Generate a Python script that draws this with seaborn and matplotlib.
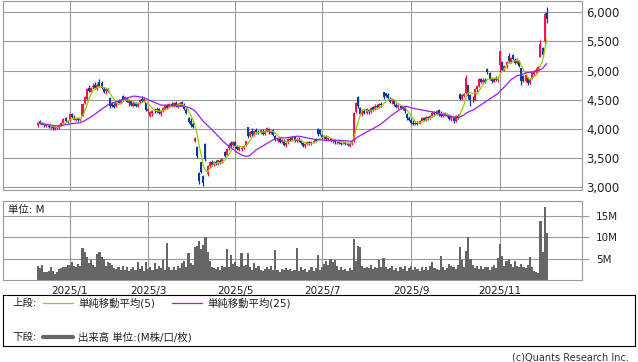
import matplotlib
matplotlib.use("Agg")
import matplotlib.pyplot as plt
import numpy as np
import pandas as pd
import seaborn as sns

# trading calendar (TSE holidays in the range)
holidays = ['2024-12-31', '2025-01-01', '2025-01-02', '2025-01-03', '2025-01-13',
            '2025-02-11', '2025-02-24', '2025-03-20', '2025-04-29', '2025-05-05',
            '2025-05-06', '2025-07-21', '2025-08-11', '2025-09-15', '2025-09-23',
            '2025-10-13', '2025-11-03', '2025-11-24']
dates = pd.bdate_range('2024-12-10', '2025-12-05', freq='C', holidays=holidays)

opens = [
    4060, 4130, 4100, 4080, 4050, 4060, 4030, 4030, 4000, 4040, 4010, 4070, 4110, 4180, 4130,  # Dec
    4150, 4260, 4190, 4150, 4170, 4160, 4230, 4440, 4520, 4700, 4640, 4720, 4760, 4690, 4800, 4780, 4690, 4650, 4680,  # Jan
    4530, 4440, 4410, 4390, 4470, 4450, 4560, 4520, 4530, 4440, 4480, 4400, 4440, 4390, 4460, 4510, 4480, 4440,  # Feb
    4310, 4220, 4280, 4320, 4290, 4340, 4260, 4320, 4350, 4400, 4380, 4430, 4410, 4450, 4380, 4430, 4460, 4410, 4330, 4180,  # Mar
    4130, 4080, 3790, 3690, 3250, 3430, 3200, 3750, 3220, 3360, 3440, 3380, 3430, 3410, 3450, 3430, 3600, 3560, 3680, 3760, 3730,  # Apr
    3780, 3700, 3640, 3650, 3680, 3720, 4030, 3880, 3960, 3900, 3980, 3950, 3930, 3970, 3910, 3960, 4000, 3930, 3980, 3880,  # May
    3800, 3830, 3780, 3800, 3720, 3770, 3820, 3810, 3860, 3790, 3830, 3800, 3760, 3700, 3740, 3780, 3740, 3780, 3820, 4000, 3980,  # Jun
    3900, 3860, 3880, 3830, 3840, 3790, 3800, 3770, 3790, 3760, 3760, 3780, 3740, 3710, 3740, 3800, 4290, 4540, 4360, 4250, 4300, 4280,  # Jul
    4330, 4290, 4370, 4330, 4400, 4380, 4420, 4630, 4610, 4580, 4520, 4480, 4490, 4410, 4370, 4400, 4350, 4380, 4260, 4180,  # Aug
    4160, 4110, 4080, 4110, 4090, 4140, 4180, 4150, 4200, 4190, 4220, 4280, 4250, 4320, 4260, 4220, 4270, 4240, 4240, 4170,  # Sep
    4200, 4140, 4230, 4600, 4520, 4560, 4610, 4750, 4580, 4500, 4490, 4680, 4740, 4860, 4800, 4840, 5030, 4960, 4860, 4810, 4880, 4840,  # Oct
    5090, 5140, 5010, 5080, 5250, 5150, 5260, 5190, 5130, 5170, 5040, 4900, 4830, 4880, 4790, 4870, 4950, 4990,  # Nov
    5000, 5240, 5380, 5500, 5980,  # Dec
]
highs = [
    4110, 4160, 4120, 4090, 4080, 4070, 4060, 4040, 4040, 4050, 4080, 4120, 4180, 4200, 4160,
    4270, 4280, 4240, 4190, 4200, 4190, 4450, 4570, 4710, 4760, 4720, 4790, 4800, 4780, 4850, 4830, 4720, 4700, 4710,
    4540, 4460, 4440, 4470, 4520, 4520, 4590, 4570, 4550, 4490, 4500, 4470, 4460, 4460, 4520, 4560, 4540, 4450,
    4360, 4310, 4330, 4360, 4370, 4360, 4330, 4380, 4420, 4430, 4440, 4470, 4460, 4480, 4440, 4470, 4480, 4440, 4360, 4200,
    4180, 4120, 3870, 3700, 3270, 3440, 3210, 3760, 3390, 3450, 3470, 3450, 3460, 3470, 3480, 3500, 3620, 3680, 3760, 3800, 3790,
    3800, 3720, 3700, 3700, 3730, 3800, 4040, 3970, 4010, 3990, 4010, 3990, 4000, 4000, 3990, 4030, 4020, 3990, 4000, 3900,
    3850, 3860, 3830, 3820, 3780, 3840, 3870, 3880, 3880, 3850, 3860, 3820, 3780, 3760, 3800, 3800, 3790, 3820, 3850, 4020, 4000,
    3920, 3900, 3900, 3870, 3850, 3820, 3830, 3800, 3810, 3790, 3800, 3790, 3770, 3770, 3810, 4290, 4460, 4560, 4380, 4330, 4350, 4360,
    4350, 4380, 4400, 4420, 4430, 4440, 4460, 4640, 4620, 4610, 4540, 4520, 4510, 4450, 4420, 4410, 4400, 4390, 4280, 4230,
    4180, 4150, 4120, 4130, 4160, 4200, 4210, 4220, 4230, 4240, 4300, 4310, 4330, 4340, 4300, 4290, 4290, 4280, 4250, 4220,
    4220, 4240, 4260, 4610, 4600, 4620, 4920, 4760, 4600, 4560, 4700, 4760, 4880, 4880, 4870, 4880, 5050, 4980, 4890, 4880, 4900, 4890,
    5350, 5160, 5100, 5160, 5300, 5230, 5290, 5220, 5210, 5190, 5050, 4930, 4940, 4890, 4880, 4980, 5010, 5040,
    5080, 5520, 5400, 6000, 6090,
]
lows = [
    4040, 4090, 4060, 4040, 4030, 4020, 4000, 3990, 3990, 4000, 4000, 4060, 4100, 4120, 4100,
    4140, 4190, 4150, 4130, 4140, 4140, 4220, 4420, 4500, 4630, 4610, 4680, 4680, 4660, 4720, 4680, 4620, 4600, 4630,
    4360, 4370, 4360, 4380, 4440, 4430, 4500, 4490, 4460, 4400, 4390, 4380, 4370, 4380, 4430, 4470, 4460, 4300,
    4280, 4200, 4230, 4280, 4270, 4250, 4230, 4290, 4330, 4340, 4360, 4380, 4370, 4370, 4360, 4400, 4390, 4320, 4260, 4100,
    4040, 4020, 3770, 3510, 3060, 3250, 3030, 3450, 3190, 3330, 3370, 3360, 3380, 3390, 3400, 3410, 3520, 3540, 3640, 3690, 3700,
    3680, 3640, 3620, 3620, 3660, 3710, 3840, 3860, 3880, 3880, 3920, 3910, 3920, 3900, 3900, 3940, 3920, 3910, 3880, 3790,
    3770, 3760, 3760, 3700, 3690, 3750, 3790, 3800, 3780, 3770, 3780, 3740, 3690, 3680, 3720, 3720, 3720, 3760, 3780, 3880, 3900,
    3820, 3830, 3810, 3800, 3770, 3760, 3750, 3740, 3740, 3730, 3740, 3720, 3700, 3690, 3720, 3780, 4270, 4360, 4240, 4220, 4250, 4260,
    4260, 4270, 4310, 4320, 4350, 4360, 4380, 4520, 4540, 4510, 4440, 4420, 4400, 4360, 4350, 4340, 4330, 4280, 4160, 4140,
    4090, 4070, 4060, 4070, 4080, 4130, 4130, 4140, 4160, 4170, 4200, 4230, 4240, 4230, 4200, 4210, 4220, 4200, 4150, 4140,
    4110, 4120, 4170, 4490, 4500, 4540, 4600, 4520, 4390, 4460, 4480, 4640, 4720, 4780, 4770, 4790, 4950, 4840, 4790, 4800, 4820, 4810,
    4980, 4990, 4990, 5050, 5130, 5130, 5180, 5110, 5110, 5060, 4750, 4800, 4810, 4750, 4770, 4850, 4920, 4960,
    4980, 5230, 5230, 5480, 5810,
]
closes = [
    4100, 4100, 4070, 4060, 4070, 4030, 4050, 4010, 4030, 4010, 4070, 4110, 4170, 4140, 4120,
    4250, 4200, 4160, 4180, 4150, 4180, 4430, 4550, 4690, 4650, 4700, 4730, 4700, 4760, 4740, 4700, 4640, 4680, 4650,
    4390, 4400, 4380, 4460, 4450, 4500, 4520, 4540, 4470, 4480, 4410, 4450, 4390, 4450, 4500, 4480, 4520, 4320,
    4340, 4290, 4310, 4300, 4350, 4270, 4310, 4360, 4400, 4360, 4420, 4400, 4440, 4390, 4420, 4450, 4400, 4340, 4280, 4120,
    4060, 4040, 3850, 3530, 3100, 3270, 3070, 3480, 3370, 3430, 3390, 3440, 3400, 3460, 3420, 3490, 3540, 3660, 3700, 3710, 3770,
    3700, 3660, 3690, 3670, 3710, 3790, 3880, 3950, 3910, 3970, 3940, 3930, 3980, 3920, 3970, 4010, 3940, 3970, 3900, 3810,
    3830, 3780, 3810, 3720, 3760, 3820, 3810, 3860, 3790, 3830, 3800, 3760, 3710, 3740, 3780, 3740, 3770, 3800, 3790, 3910, 3920,
    3850, 3880, 3830, 3850, 3790, 3800, 3770, 3780, 3760, 3750, 3780, 3740, 3720, 3750, 3790, 4270, 4440, 4390, 4260, 4310, 4280, 4340,
    4290, 4360, 4330, 4400, 4370, 4420, 4410, 4540, 4570, 4530, 4460, 4500, 4420, 4380, 4410, 4360, 4390, 4300, 4180, 4160,
    4110, 4090, 4100, 4080, 4140, 4180, 4150, 4200, 4180, 4230, 4280, 4250, 4310, 4250, 4220, 4270, 4240, 4260, 4170, 4200,
    4130, 4220, 4190, 4520, 4580, 4600, 4880, 4560, 4500, 4490, 4680, 4730, 4850, 4800, 4840, 4810, 4970, 4860, 4820, 4870, 4840, 4870,
    5330, 5010, 5080, 5140, 5160, 5210, 5200, 5130, 5190, 5080, 4820, 4830, 4920, 4780, 4860, 4960, 4990, 5010,
    5060, 5460, 5270, 5970, 5880,
]
volume_m = [
    3.3, 2.9, 3.5, 2.0, 1.9, 2.1, 3.2, 2.2, 1.4, 2.0, 2.6, 2.9, 3.2, 3.0, 3.6,
    3.6, 4.2, 3.4, 3.0, 3.9, 3.3, 7.5, 6.6, 5.4, 4.0, 4.7, 3.5, 3.2, 6.2, 6.5, 5.5, 5.0, 3.4, 4.2,
    4.0, 3.5, 2.9, 2.6, 3.1, 2.5, 3.3, 2.4, 3.0, 2.2, 2.6, 3.2, 2.3, 4.2, 2.7, 3.4, 2.2, 4.3,
    2.6, 3.0, 2.3, 4.0, 2.6, 3.3, 2.8, 4.7, 2.5, 8.6, 3.0, 2.4, 3.2, 2.5, 3.4, 2.8, 4.1, 4.4, 3.0, 6.3,
    4.0, 3.6, 7.7, 8.0, 9.1, 7.3, 8.2, 10.2, 6.6, 4.5, 3.2, 2.9, 2.6, 3.0, 2.4, 3.3, 3.1, 7.3, 3.0, 5.9, 3.9,
    4.2, 3.4, 3.0, 6.4, 3.3, 3.5, 6.3, 3.2, 2.5, 4.1, 2.8, 3.4, 2.5, 2.2, 2.7, 3.0, 2.6, 3.3, 2.4, 7.0,
    2.3, 2.0, 2.7, 2.4, 2.8, 2.3, 2.6, 2.2, 2.5, 7.5, 2.1, 3.0, 2.4, 2.7, 2.0, 2.5, 3.1, 2.2, 2.8, 5.9, 2.3,
    3.0, 3.9, 4.5, 3.6, 4.9, 4.2, 4.8, 3.4, 2.5, 3.0, 2.3, 2.6, 2.2, 2.9, 2.5, 9.6, 4.5, 8.0, 7.7, 3.4, 2.8, 3.0,
    2.8, 3.5, 2.6, 3.2, 2.9, 4.7, 3.1, 5.2, 3.0, 2.6, 2.9, 3.3, 2.4, 2.8, 2.2, 3.2, 2.6, 3.3, 2.1, 2.8,
    3.3, 2.3, 3.0, 2.6, 2.2, 3.1, 2.5, 3.0, 2.4, 3.4, 4.2, 2.9, 2.6, 2.5, 5.6, 3.0, 2.4, 2.9, 3.8, 3.4,
    3.0, 2.7, 3.6, 7.7, 4.7, 3.2, 6.8, 10.0, 4.9, 3.6, 2.9, 3.3, 2.6, 3.4, 2.7, 3.2, 3.0, 2.4, 3.1, 3.5, 2.8, 5.2,
    8.4, 5.6, 3.3, 4.5, 4.9, 3.7, 3.1, 4.4, 3.4, 3.0, 3.8, 3.2, 2.9, 3.6, 5.4, 3.0, 2.2, 1.9,
    1.7, 13.8, 6.6, 17.1, 11.0,
]

price_ticks = [3000, 3500, 4000, 4500, 5000, 5500, 6000]
volume_ticks = [5, 10, 15]
month_starts = ['2025-01-01', '2025-03-01', '2025-05-01', '2025-07-01', '2025-09-01', '2025-11-01']
month_labels = ['2025/1', '2025/3', '2025/5', '2025/7', '2025/9', '2025/11']

n = len(dates)
assert all(len(a) == n for a in (opens, highs, lows, closes, volume_m)), \
    (n, len(opens), len(highs), len(lows), len(closes), len(volume_m))

df = pd.DataFrame({'date': dates, 'open': opens, 'high': highs, 'low': lows,
                   'close': closes, 'volume': volume_m})
df['i'] = np.arange(n)
df['ma5'] = df['close'].rolling(5, min_periods=1).mean()
df['ma25'] = df['close'].rolling(25, min_periods=1).mean()
month_pos = [int(np.searchsorted(dates, pd.Timestamp(m))) for m in month_starts]

RED = '#f5134a'
BLUE = '#0a3aa0'
GREEN = '#99cc00'
PURPLE = '#9b1cf5'
GRID = '#9a9a9a'
VOL = '#666666'

sns.set_style('white')
plt.rcParams['font.family'] = ['DejaVu Sans', 'Noto Sans CJK JP']

W, H = 638, 362
fig = plt.figure(figsize=(W / 100, H / 100), dpi=100)
ax_p = fig.add_axes([3 / W, 1 - 190 / H, 579 / W, 189 / H])
ax_v = fig.add_axes([3 / W, 1 - 280.3 / H, 579 / W, 79.3 / H])

xlim = (-16.5, 256.6)

# candles
up = df['close'] >= df['open']
colors = np.where(up, RED, BLUE)
ax_p.vlines(df['i'], df['low'], df['high'], colors=colors, linewidth=0.9, zorder=2)
body = (df['close'] - df['open']).abs().clip(lower=8)
ax_p.bar(df['i'], body, bottom=df[['open', 'close']].min(axis=1), width=0.95,
         color=colors, linewidth=0, zorder=2)

sns.lineplot(data=df, x='i', y='ma5', ax=ax_p, color=GREEN, linewidth=0.9, zorder=3)
sns.lineplot(data=df, x='i', y='ma25', ax=ax_p, color=PURPLE, linewidth=0.9, zorder=3)

ax_p.set_xlim(*xlim)
ax_p.set_ylim(2954, 6194)
ax_p.set_xlabel('')
ax_p.set_ylabel('')
ax_p.set_yticks(price_ticks)
ax_p.set_yticklabels([f'{v:,}' for v in price_ticks])
ax_p.yaxis.tick_right()
ax_p.set_xticks(month_pos)
ax_p.set_xticklabels([])
ax_p.tick_params(axis='x', length=0)
ax_p.tick_params(axis='y', length=0, pad=3, labelsize=8.5, labelcolor='#222222')

# volume
ax_v.bar(df['i'], df['volume'], width=1.0, color=VOL, linewidth=0, zorder=2)
ax_v.set_xlim(*xlim)
ax_v.set_ylim(0, 18.5)
ax_v.set_yticks(volume_ticks)
ax_v.set_yticklabels([f'{v}M' for v in volume_ticks])
ax_v.yaxis.tick_right()
ax_v.set_xticks(month_pos)
ax_v.set_xticklabels(month_labels)
ax_v.tick_params(axis='x', length=0, pad=4, labelsize=7.5, labelcolor='#222222')
ax_v.tick_params(axis='y', length=5, width=0.8, color=GRID, pad=5, labelsize=7.5,
                 labelcolor='#222222')
ax_v.text(5 / 579, 0.885, '単位: M', transform=ax_v.transAxes, fontsize=7.5,
          va='center', ha='left', color='#222222')

for ax in (ax_p, ax_v):
    ax.grid(True, color=GRID, linewidth=0.8)
    ax.set_axisbelow(True)
    for s in ax.spines.values():
        s.set_color(GRID)
        s.set_linewidth(0.8)

# legend box
ax_l = fig.add_axes([3 / W, 1 - 346 / H, 632 / W, 51 / H])
ax_l.set_xlim(0, 632)
ax_l.set_ylim(51, 0)
ax_l.set_xticks([])
ax_l.set_yticks([])
for s in ax_l.spines.values():
    s.set_color('black')
    s.set_linewidth(0.8)
fs = 7.5
ax_l.text(9, 8, '上段:', fontsize=fs, va='center', color='#222222')
ax_l.plot([40, 70], [8, 8], color=GREEN, linewidth=0.9)
ax_l.text(75, 8, '単純移動平均(5)', fontsize=fs, va='center', color='#222222')
ax_l.plot([169, 199], [8, 8], color=PURPLE, linewidth=0.9)
ax_l.text(204, 8, '単純移動平均(25)', fontsize=fs, va='center', color='#222222')
ax_l.text(9, 42, '下段:', fontsize=fs, va='center', color='#222222')
ax_l.plot([40, 70], [42, 42], color=VOL, linewidth=3)
ax_l.text(75, 42, '出来高 単位:(M株/口/枚)', fontsize=fs, va='center', color='#222222')

fig.text(629 / W, 1 - 357 / H, '(c)Quants Research Inc.', fontsize=7,
         ha='right', va='center', color='#333333')

fig.savefig('out.png', dpi=100)
